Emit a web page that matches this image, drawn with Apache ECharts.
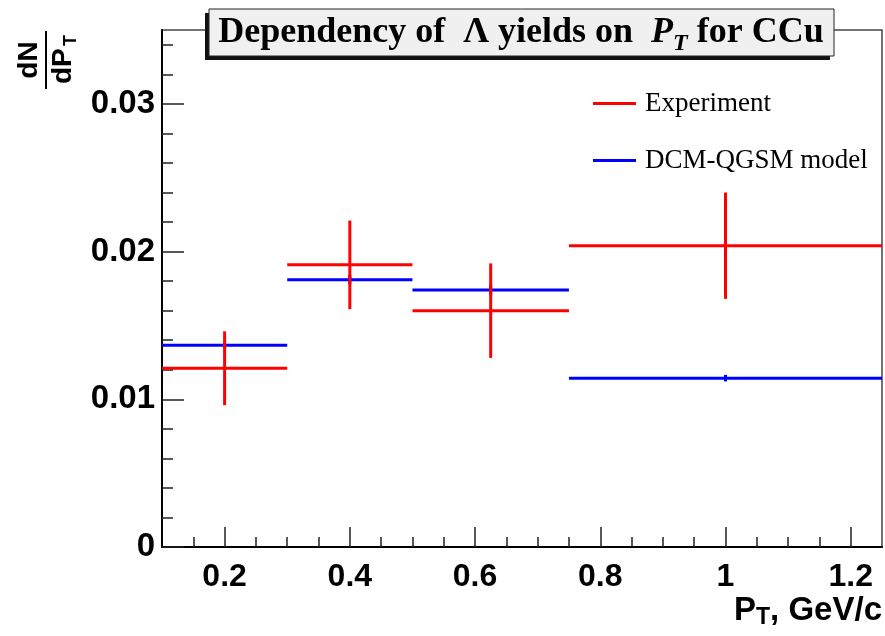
<!DOCTYPE html>
<html>
<head>
<meta charset="utf-8">
<script src="https://cdn.jsdelivr.net/npm/echarts@6/dist/echarts.min.js"></script>
<style>
  html, body { margin: 0; padding: 0; background: #fff; }
  #chart { width: 885px; height: 636px; }
</style>
</head>
<body>
<div id="chart"></div>
<script>
// P_T bins (GeV/c)
const binLow    = [0.1, 0.3, 0.5, 0.75];
const binHigh   = [0.3, 0.5, 0.75, 1.25];
const binCenter = [0.2, 0.4, 0.625, 1.0];

// Lambda yields dN/dP_T, C+Cu
const expYield   = [0.0121, 0.0191, 0.0160, 0.0204];
const expError   = [0.0025, 0.0030, 0.0032, 0.0036];
const modelYield = [0.01365, 0.0181, 0.0174, 0.01143];
const modelError = [0.00022, 0.00032, 0.00036, 0.00022];

// Axis ticks
const xTicks = [0.2, 0.4, 0.6, 0.8, 1, 1.2];
const xMinorTicks = [0.15, 0.25, 0.3, 0.35, 0.45, 0.5, 0.55, 0.65, 0.7, 0.75,
                     0.85, 0.9, 0.95, 1.05, 1.1, 1.15];
const yTicks = [0, 0.01, 0.02, 0.03];
const yMinorTicks = [0.002, 0.004, 0.006, 0.008, 0.012, 0.014, 0.016, 0.018,
                     0.022, 0.024, 0.026, 0.028, 0.032, 0.034];

const X_MIN = 0.1, X_MAX = 1.25, Y_MIN = 0, Y_MAX = 0.035;
const RED = '#ff0000', BLUE = '#0000ff';

function rows(values, errors) {
  return values.map((v, i) => [binLow[i], binHigh[i], binCenter[i], v, errors[i]]);
}

// Histogram-style point: horizontal bin width bar plus vertical error bar
function crossRenderer(color) {
  return function (params, api) {
    const y = api.value(3), e = api.value(4);
    const lo = api.coord([api.value(0), y]);
    const hi = api.coord([api.value(1), y]);
    const top = api.coord([api.value(2), y + e]);
    const bot = api.coord([api.value(2), y - e]);
    const style = { stroke: color, lineWidth: 3, lineCap: 'butt' };
    return {
      type: 'group',
      children: [
        { type: 'line', shape: { x1: lo[0], y1: lo[1], x2: hi[0], y2: hi[1] }, style: style },
        { type: 'line', shape: { x1: top[0], y1: top[1], x2: bot[0], y2: bot[1] }, style: style }
      ]
    };
  };
}

const LABEL_FONT = { fontFamily: 'Liberation Sans', fontWeight: 'bold', fontSize: 32, color: '#000' };
const TICK_STYLE = { color: '#222', width: 1.5 };

const chart = echarts.init(document.getElementById('chart'), null, { renderer: 'canvas' });

chart.setOption({
  animation: false,
  backgroundColor: '#fff',
  grid: {
    left: 162, right: 3, top: 30, bottom: 89,
    show: true, borderColor: '#444', borderWidth: 1.5, backgroundColor: 'transparent'
  },
  xAxis: [
    {
      type: 'value', min: X_MIN, max: X_MAX, position: 'bottom',
      axisLine: { show: true, onZero: false, lineStyle: { color: '#000', width: 2 } },
      axisTick: { show: true, inside: true, length: 20, customValues: xTicks, lineStyle: TICK_STYLE },
      axisLabel: Object.assign({ customValues: xTicks, margin: 14 }, LABEL_FONT),
      splitLine: { show: false }
    },
    {
      type: 'value', min: X_MIN, max: X_MAX, position: 'bottom',
      axisLine: { show: false },
      axisTick: { show: true, inside: true, length: 10, customValues: xMinorTicks, lineStyle: TICK_STYLE },
      axisLabel: { show: false },
      splitLine: { show: false }
    }
  ],
  yAxis: [
    {
      type: 'value', min: Y_MIN, max: Y_MAX, position: 'left',
      axisLine: { show: true, onZero: false, lineStyle: { color: '#000', width: 2 } },
      axisTick: { show: true, inside: true, length: 22, customValues: yTicks, lineStyle: TICK_STYLE },
      axisLabel: Object.assign({ customValues: yTicks, margin: 7 }, LABEL_FONT, { fontSize: 33 }),
      splitLine: { show: false }
    },
    {
      type: 'value', min: Y_MIN, max: Y_MAX, position: 'left',
      axisLine: { show: false },
      axisTick: { show: true, inside: true, length: 11, customValues: yMinorTicks, lineStyle: TICK_STYLE },
      axisLabel: { show: false },
      splitLine: { show: false }
    }
  ],
  legend: {
    orient: 'vertical',
    left: 593, top: 90,
    padding: 0,
    itemGap: 30,
    itemWidth: 43, itemHeight: 3,
    icon: 'rect',
    selectedMode: false,
    textStyle: { fontFamily: 'Liberation Serif', fontSize: 27, color: '#000', padding: [0, 0, 0, 4] },
    data: ['Experiment', 'DCM-QGSM model']
  },
  series: [
    {
      name: 'DCM-QGSM model', type: 'custom',
      xAxisIndex: 0, yAxisIndex: 0,
      itemStyle: { color: BLUE },
      renderItem: crossRenderer(BLUE),
      encode: { x: [0, 1, 2], y: 3 },
      data: rows(modelYield, modelError),
      z: 2
    },
    {
      name: 'Experiment', type: 'custom',
      xAxisIndex: 0, yAxisIndex: 0,
      itemStyle: { color: RED },
      renderItem: crossRenderer(RED),
      encode: { x: [0, 1, 2], y: 3 },
      data: rows(expYield, expError),
      z: 3
    }
  ],
  graphic: [
    // Title pave with shadow
    { type: 'rect', z: 100, shape: { x: 205, y: 13, width: 625, height: 47 }, style: { fill: '#111' } },
    { type: 'rect', z: 101, shape: { x: 209, y: 9, width: 625, height: 47 },
      style: { fill: '#f0f0f0', stroke: '#222', lineWidth: 1 } },
    {
      type: 'text', z: 102, x: 521, y: 33,
      style: {
        text: '{b|Dependency of  Λ yields on  }{i|P}{s|T}{b| for CCu}',
        align: 'center', verticalAlign: 'middle',
        rich: {
          b: { fontFamily: 'Liberation Serif', fontWeight: 'bold', fontSize: 36, lineHeight: 46, fill: '#000' },
          i: { fontFamily: 'Liberation Serif', fontWeight: 'bold', fontStyle: 'italic', fontSize: 36, lineHeight: 46, fill: '#000' },
          s: { fontFamily: 'Liberation Serif', fontWeight: 'bold', fontStyle: 'italic', fontSize: 24, lineHeight: 46, verticalAlign: 'bottom', fill: '#000' }
        }
      }
    },
    // Y axis title: dN / dP_T fraction, rotated
    {
      type: 'group', x: 46, y: 60, rotation: Math.PI / 2, z: 100,
      children: [
        { type: 'line', shape: { x1: -29, y1: 0, x2: 29, y2: 0 }, style: { stroke: '#000', lineWidth: 2 } },
        { type: 'text', x: 0, y: -3,
          style: { text: 'dN', align: 'center', verticalAlign: 'bottom',
                   font: 'bold 28px "Liberation Sans"', fill: '#000' } },
        { type: 'text', x: -24, y: 3,
          style: { text: 'dP', align: 'left', verticalAlign: 'top',
                   font: 'bold 28px "Liberation Sans"', fill: '#000' } },
        { type: 'text', x: 14, y: 16,
          style: { text: 'T', align: 'left', verticalAlign: 'top',
                   font: 'bold 18px "Liberation Sans"', fill: '#000' } }
      ]
    },
    // X axis title
    {
      type: 'text', z: 100, right: 3, top: 594,
      style: {
        text: '{a|P}{s|T}{a|, GeV/c}',
        rich: {
          a: { fontFamily: 'Liberation Sans', fontWeight: 'bold', fontSize: 33, lineHeight: 38, fill: '#000' },
          s: { fontFamily: 'Liberation Sans', fontWeight: 'bold', fontSize: 23, lineHeight: 38, verticalAlign: 'bottom', fill: '#000' }
        }
      }
    }
  ]
});
</script>
</body>
</html>
